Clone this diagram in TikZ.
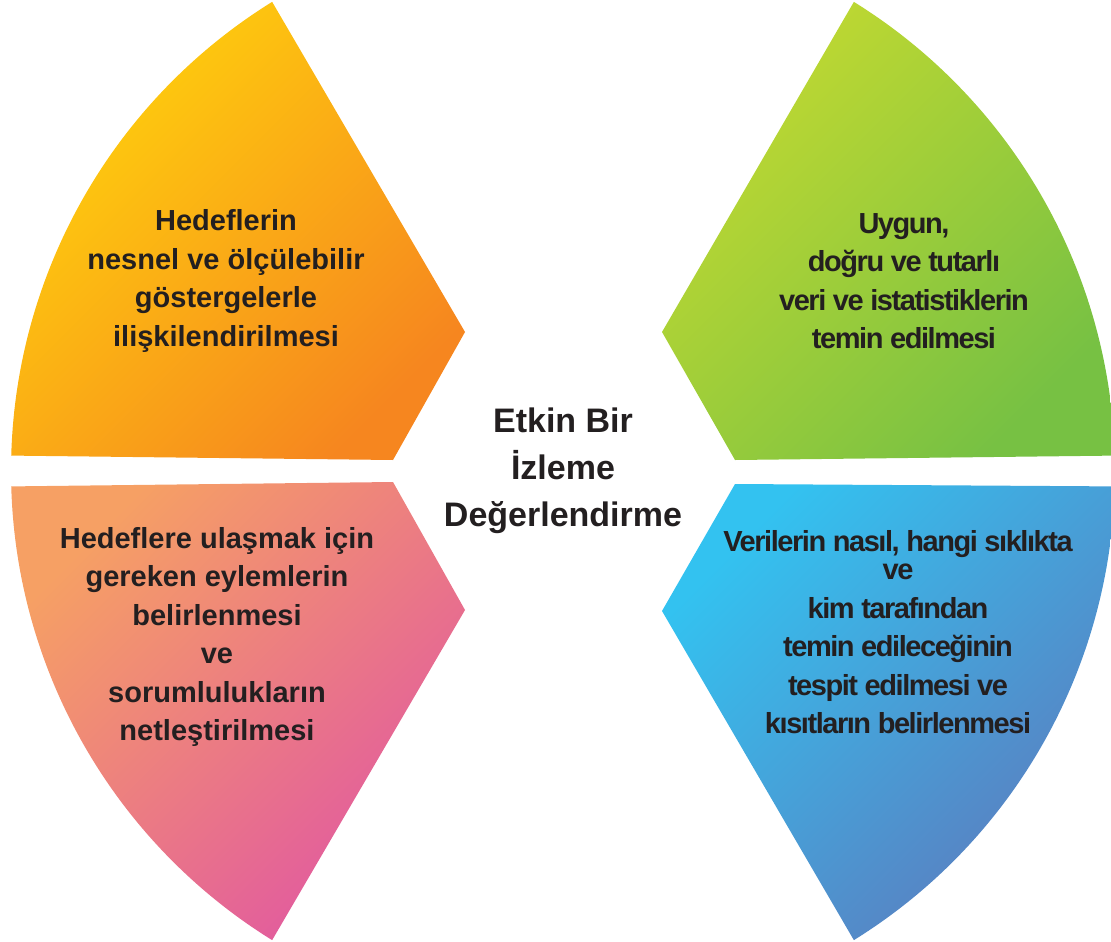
\documentclass[tikz,border=0pt]{standalone}
\usepackage{fontspec}
\setmainfont{Liberation Sans}
\newfontfamily\tightsf[LetterSpace=-5]{Liberation Sans}
\usetikzlibrary{calc}
\definecolor{inkgray}{HTML}{231F20}
\definecolor{tlA}{HTML}{FFD20C}\definecolor{tlB}{HTML}{F6861F}
\definecolor{trA}{HTML}{C2D931}\definecolor{trB}{HTML}{77C143}
\definecolor{blA}{HTML}{F6A064}\definecolor{blB}{HTML}{E158A1}
\definecolor{brA}{HTML}{33C2F0}\definecolor{brB}{HTML}{5C7CBE}

\begin{document}
\begin{tikzpicture}[x=0.5pt,y=-0.5pt,
  petal/.style={shading=axis,shading angle=45},
  lbl/.style={text=inkgray,align=center,font=\bfseries\fontsize{14.5}{19.25}\selectfont},
  lbltight/.style={lbl,font=\tightsf\bfseries\fontsize{14.5}{19.25}\selectfont}]
\useasboundingbox (0,0) rectangle (1111,941);
\clip (0,0) rectangle (1111,941);
\coordinate (C) at (563,471);

% four petals of one big circle
\shade[top color=tlA,bottom color=tlB,petal] (393,460) -- ($(C)+(181.6:552)$)
  arc[start angle=181.6,end angle=238.2,radius=552] -- (465,332) -- cycle;
\shade[top color=trA,bottom color=trB,petal] (735,460) -- ($(C)+(358.4:552)$)
  arc[start angle=358.4,end angle=301.8,radius=552] -- (662,332) -- cycle;
\shade[top color=blA,bottom color=blB,petal] (393,482) -- ($(C)+(178.4:552)$)
  arc[start angle=178.4,end angle=121.8,radius=552] -- (465,610) -- cycle;
\shade[top color=brA,bottom color=brB,petal] (735,484) -- ($(C)+(1.6:552)$)
  arc[start angle=1.6,end angle=58.2,radius=552] -- (662,611) -- cycle;

% texts
\node[lbl] (goals) at (226,281) {Hedeflerin\\nesnel ve ölçülebilir\\göstergelerle\\ilişkilendirilmesi};
\node[lbltight] (data) at (904,281) {Uygun,\\doğru ve tutarlı\\veri ve istatistiklerin\\temin edilmesi};
\node[lbl] (actions) at (217,637) {Hedeflere ulaşmak için\\gereken eylemlerin\\belirlenmesi\\ve\\sorumlulukların\\netleştirilmesi};
\node[lbltight] (sources) at (898,632) {Verilerin nasıl, hangi sıklıkta\\[-5pt]ve\\kim tarafından\\temin edileceğinin\\tespit edilmesi ve\\kısıtların belirlenmesi};
\node[text=inkgray,align=center,font=\bfseries\fontsize{17}{23.5}\selectfont] (core) at (563,471) {Etkin Bir\\İzleme\\Değerlendirme};
\end{tikzpicture}
\end{document}
